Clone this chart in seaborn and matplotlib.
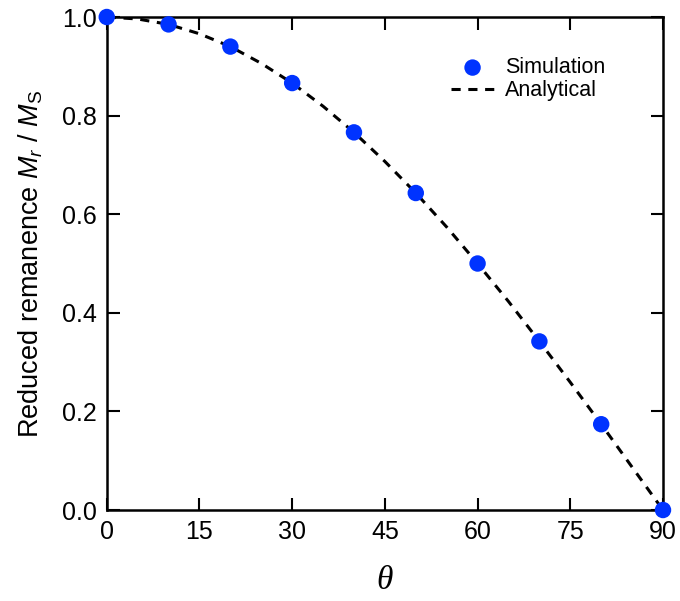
import matplotlib
matplotlib.use("Agg")
import matplotlib.pyplot as plt
import seaborn as sns
import pandas as pd

sim_theta = [0, 10, 20, 30, 40, 50, 60, 70, 80, 90]
sim_mr = [1.0, 0.985, 0.940, 0.866, 0.766, 0.643, 0.500, 0.342, 0.174, 0.0]
ana_theta = [0, 5, 10, 15, 20, 25, 30, 35, 40, 45, 50, 55, 60, 65, 70, 75, 80, 85, 90]
ana_mr = [1.0, 0.996, 0.985, 0.966, 0.940, 0.906, 0.866, 0.819, 0.766, 0.707,
          0.643, 0.574, 0.500, 0.423, 0.342, 0.259, 0.174, 0.087, 0.0]
x_ticks = [0, 15, 30, 45, 60, 75, 90]
y_ticks = [0.0, 0.2, 0.4, 0.6, 0.8, 1.0]

sns.set_theme(style="white")
plt.rcParams['font.family'] = ['Liberation Sans', 'DejaVu Sans']
plt.rcParams['mathtext.fontset'] = 'custom'
plt.rcParams['mathtext.it'] = 'Liberation Sans:italic'
plt.rcParams['mathtext.rm'] = 'Liberation Sans'
plt.rcParams['text.color'] = 'black'
plt.rcParams['axes.labelcolor'] = 'black'

sim_df = pd.DataFrame({"theta": sim_theta, "mr": sim_mr})
ana_df = pd.DataFrame({"theta": ana_theta, "mr": ana_mr})

fig = plt.figure(figsize=(6.8, 6.01), dpi=100)
ax = fig.add_axes([0.157, 0.1514, 0.818, 0.8203])

sns.lineplot(data=ana_df, x="theta", y="mr", ax=ax, color="black", lw=2.2,
             linestyle=(0, (3, 2.5)), label="Analytical", zorder=2)
sns.scatterplot(data=sim_df, x="theta", y="mr", ax=ax, color="#0033ff", s=140,
                edgecolor="none", label="Simulation", zorder=3, clip_on=False)

ax.set_xlim(0, 90)
ax.set_ylim(0, 1.0)
ax.set_xticks(x_ticks)
ax.set_yticks(y_ticks)
ax.set_yticklabels([f"{v:.1f}" for v in y_ticks])
ax.tick_params(direction="in", length=9, width=1.5, labelsize=18, pad=7,
               top=True, right=True, bottom=True, left=True, colors="black")
for s in ax.spines.values():
    s.set_linewidth(1.8)
    s.set_color("black")

ax.set_xlabel("θ", family="Liberation Serif", style="italic", fontsize=24, labelpad=16)
ax.set_ylabel("Reduced remanence $M_r$ / $M_{\\mathrm{S}}$", fontsize=19.5, labelpad=12)

h, l = ax.get_legend_handles_labels()
order = [l.index("Simulation"), l.index("Analytical")]
ax.legend([h[i] for i in order], [l[i] for i in order], loc="upper right",
          bbox_to_anchor=(0.923, 0.949), frameon=False, fontsize=15.5,
          handlelength=2.0, handletextpad=0.5, labelspacing=0.1, borderpad=0.2)

fig.savefig("out.png", dpi=100)
